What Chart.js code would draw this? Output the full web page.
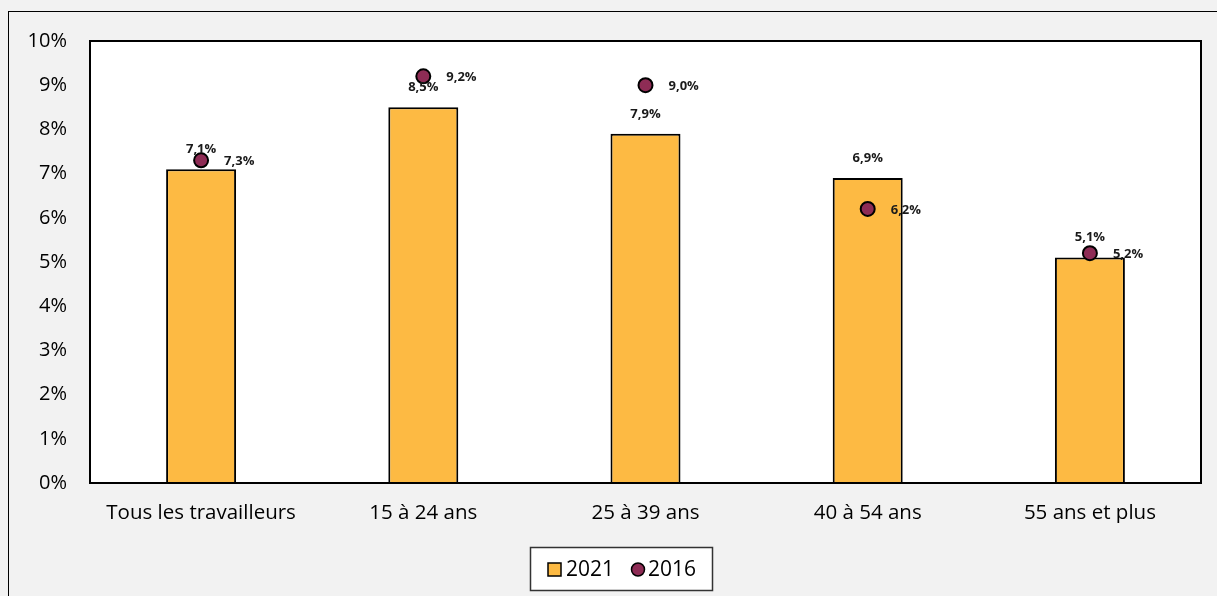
<!DOCTYPE html>
<html>
<head>
<meta charset="utf-8">
<script src="https://cdn.jsdelivr.net/npm/chart.js@4.4.0/dist/chart.umd.min.js"></script>
<style>
  html, body { margin: 0; padding: 0; background: #f2f2f2; }
  #wrap { width: 1217px; height: 596px; }
</style>
</head>
<body>
<div id="wrap"><canvas id="chart"></canvas></div>
<script>
// data
const categories = ['Tous les travailleurs', '15 à 24 ans', '25 à 39 ans', '40 à 54 ans', '55 ans et plus'];
const values2021 = [7.1, 8.5, 7.9, 6.9, 5.1];
const values2016 = [7.3, 9.2, 9.0, 6.2, 5.2];
const yTicks = [0, 1, 2, 3, 4, 5, 6, 7, 8, 9, 10];

const barColor = '#FDBA43';
const dotColor = '#8E2C55';
const fontFamily = '"Open Sans", Lato, sans-serif';

const fmt = v => v.toFixed(1).replace('.', ',') + '%';

// background, plot frame, value labels and legend box
const decorations = {
    id: 'decorations',
    beforeDraw(chart) {
        const ctx = chart.ctx;
        const a = chart.chartArea;
        ctx.save();
        ctx.fillStyle = '#f2f2f2';
        ctx.fillRect(0, 0, chart.width, chart.height);
        ctx.strokeStyle = '#000';
        ctx.lineWidth = 1;
        ctx.strokeRect(8.5, 11.5, chart.width + 10, chart.height + 10);
        ctx.fillStyle = '#fff';
        ctx.fillRect(a.left, a.top, a.right - a.left, a.bottom - a.top);
        ctx.restore();
    },
    afterDatasetsDraw(chart) {
        const ctx = chart.ctx;
        const a = chart.chartArea;
        ctx.save();
        ctx.strokeStyle = '#000';
        ctx.lineWidth = 2;
        ctx.strokeRect(a.left, a.top, a.right - a.left, a.bottom - a.top);

        ctx.fillStyle = '#1a1a1a';
        ctx.font = 'bold 13px ' + fontFamily;
        ctx.textBaseline = 'middle';
        chart.getDatasetMeta(0).data.forEach((bar, i) => {
            ctx.textAlign = 'center';
            ctx.fillText(fmt(values2021[i]), bar.x, bar.y - 20);
        });
        chart.getDatasetMeta(1).data.forEach((pt, i) => {
            ctx.textAlign = 'left';
            ctx.fillText(fmt(values2016[i]), pt.x + 23, pt.y + 1);
        });

        // legend
        const lx = 530, ly = 547, lw = 182, lh = 43;
        ctx.fillStyle = '#fff';
        ctx.fillRect(lx, ly, lw, lh);
        ctx.strokeStyle = '#333';
        ctx.lineWidth = 1.5;
        ctx.strokeRect(lx + 0.5, ly + 0.5, lw, lh);

        ctx.fillStyle = barColor;
        ctx.fillRect(548, 563, 13, 13);
        ctx.strokeStyle = '#000';
        ctx.lineWidth = 1.5;
        ctx.strokeRect(548, 563, 13, 13);

        ctx.beginPath();
        ctx.arc(638, 569.5, 6.5, 0, Math.PI * 2);
        ctx.fillStyle = dotColor;
        ctx.fill();
        ctx.stroke();

        ctx.fillStyle = '#000';
        ctx.font = '21px ' + fontFamily;
        ctx.textAlign = 'left';
        ctx.fillText(chart.data.datasets[0].label, 566, 570);
        ctx.fillText(chart.data.datasets[1].label, 648, 570);
        ctx.restore();
    }
};

new Chart(document.getElementById('chart'), {
    data: {
        labels: categories,
        datasets: [
            {
                type: 'bar',
                label: '2021',
                data: values2021,
                backgroundColor: barColor,
                borderColor: '#000',
                borderWidth: 2,
                barPercentage: 1,
                categoryPercentage: 0.315,
                order: 2
            },
            {
                type: 'line',
                label: '2016',
                data: values2016,
                showLine: false,
                pointRadius: 7,
                pointHoverRadius: 7,
                pointBackgroundColor: dotColor,
                pointBorderColor: '#000',
                pointBorderWidth: 2,
                order: 1
            }
        ]
    },
    options: {
        responsive: true,
        maintainAspectRatio: false,
        animation: false,
        layout: { padding: { left: 0, top: 41, right: 16, bottom: 73 } },
        plugins: {
            legend: { display: false },
            tooltip: { enabled: false }
        },
        scales: {
            x: {
                grid: { display: false, drawTicks: false },
                border: { display: false },
                ticks: { color: '#000', padding: 18, font: { family: fontFamily, size: 20.5 } },
                afterFit(scale) { scale.height = 40; }
            },
            y: {
                min: yTicks[0],
                max: yTicks[yTicks.length - 1],
                grid: { display: false, drawTicks: false },
                border: { display: false },
                afterBuildTicks(scale) { scale.ticks = yTicks.map(v => ({ value: v })); },
                ticks: {
                    color: '#000',
                    padding: 23,
                    font: { family: fontFamily, size: 20 },
                    callback: v => v + '%'
                },
                afterFit(scale) { scale.width = 90; }
            }
        }
    },
    plugins: [decorations]
});
</script>
</body>
</html>
